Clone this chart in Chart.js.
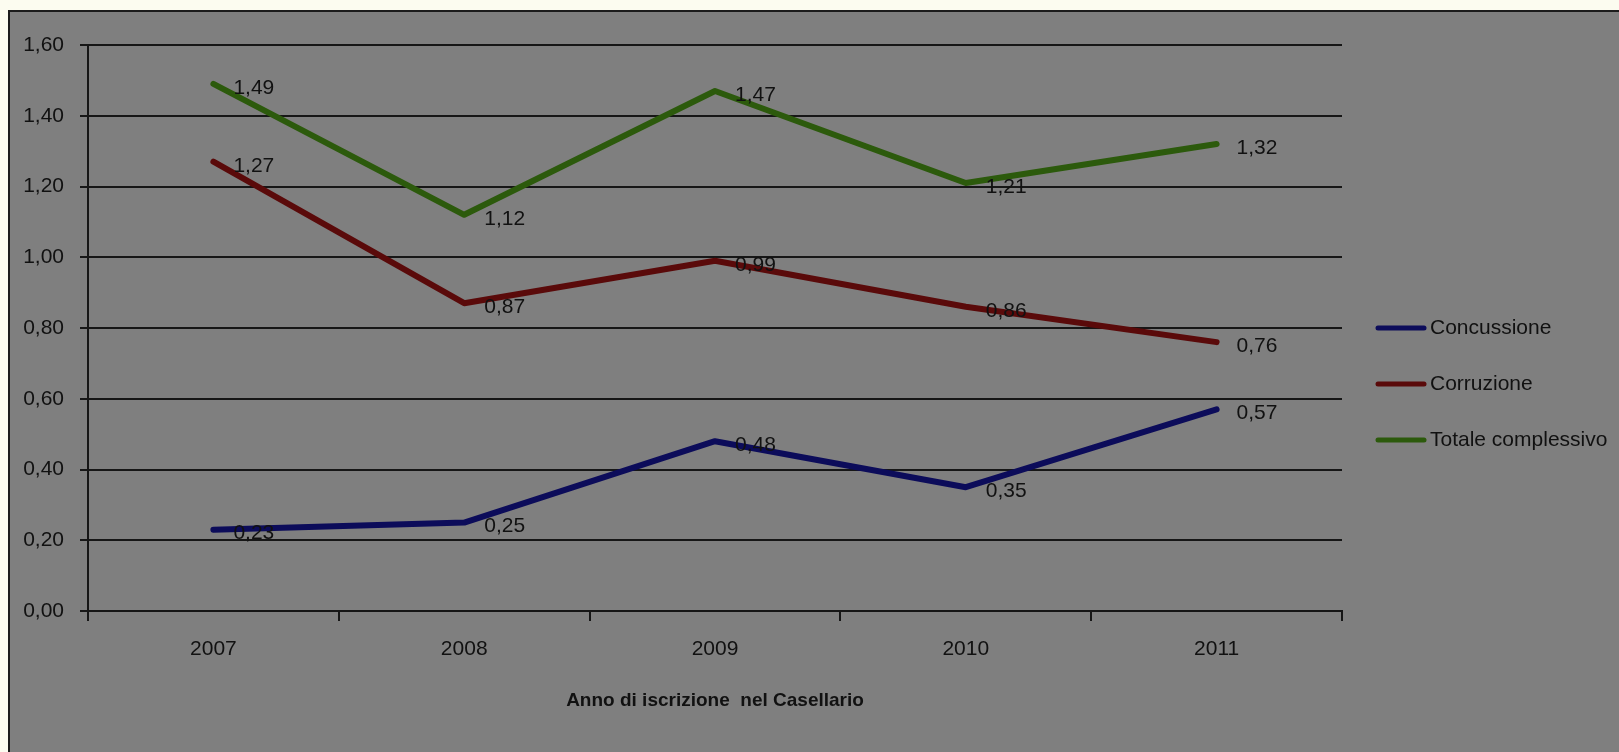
<!DOCTYPE html>
<html>
<head>
<meta charset="utf-8">
<script src="https://cdn.jsdelivr.net/npm/chart.js@4"></script>
<style>
    body { margin: 0; background: #fcfcf0; overflow: hidden; }
    #box { position: absolute; left: 8px; top: 10px; width: 1640px; height: 780px; background: #7f7f7f; border: 2px solid #1c1c1c; }
    #chart { position: absolute; left: 0; top: 0; }
</style>
</head>
<body>
<div id="box"></div>
<canvas id="chart" width="1619" height="752"></canvas>
<script>
// Dati del grafico
const anni = ['2007', '2008', '2009', '2010', '2011'];
const concussione = [0.23, 0.25, 0.48, 0.35, 0.57];
const corruzione = [1.27, 0.87, 0.99, 0.86, 0.76];
const totale = [1.49, 1.12, 1.47, 1.21, 1.32];
const nomiSerie = ['Concussione', 'Corruzione', 'Totale complessivo'];
const colori = ['#0c0c5a', '#5a0a0a', '#2c5a0c'];

const fontFam = "'Liberation Sans', Arial, sans-serif";
const formatta = v => v.toFixed(2).replace('.', ',');

// Etichette dei valori a destra dei punti
const etichette = {
    id: 'etichette',
    afterDatasetsDraw(chart) {
        const ctx = chart.ctx;
        ctx.save();
        ctx.font = '21px ' + fontFam;
        ctx.fillStyle = '#111111';
        ctx.textAlign = 'left';
        ctx.textBaseline = 'middle';
        chart.data.datasets.forEach((ds, i) => {
            chart.getDatasetMeta(i).data.forEach((pt, j) => {
                ctx.fillText(formatta(ds.data[j]), pt.x + 20, pt.y + 4);
            });
        });
        ctx.restore();
    }
};

// Legenda a destra
const legenda = {
    id: 'legenda',
    afterDraw(chart) {
        const ctx = chart.ctx;
        const x0 = chart.chartArea.right + 36;
        ctx.save();
        ctx.font = '21px ' + fontFam;
        ctx.textBaseline = 'middle';
        chart.data.datasets.forEach((ds, i) => {
            const y = 328 + i * 56;
            ctx.strokeStyle = ds.borderColor;
            ctx.lineWidth = 5;
            ctx.lineCap = 'round';
            ctx.beginPath();
            ctx.moveTo(x0, y);
            ctx.lineTo(x0 + 46, y);
            ctx.stroke();
            ctx.fillStyle = '#111111';
            ctx.fillText(ds.label, x0 + 52, y);
        });
        ctx.restore();
    }
};

const serie = [concussione, corruzione, totale];

new Chart(document.getElementById('chart'), {
    type: 'line',
    data: {
        labels: anni,
        datasets: serie.map((d, i) => ({
            label: nomiSerie[i],
            data: d,
            borderColor: colori[i],
            backgroundColor: colori[i],
            borderWidth: 6,
            borderCapStyle: 'round',
            borderJoinStyle: 'round',
            pointRadius: 0,
            tension: 0
        }))
    },
    options: {
        responsive: false,
        devicePixelRatio: 1,
        animation: false,
        layout: { padding: { left: 0, top: 45, right: 277, bottom: 0 } },
        plugins: {
            legend: { display: false },
            tooltip: { enabled: false }
        },
        scales: {
            x: {
                offset: true,
                afterFit: s => { s.height = 141; },
                grid: { offset: true, drawOnChartArea: false, tickLength: 10, color: '#161616', lineWidth: 2 },
                border: { color: '#161616', width: 2 },
                ticks: { color: '#111111', font: { family: fontFam, size: 21 }, padding: 16 },
                title: {
                    display: true,
                    text: 'Anno di iscrizione  nel Casellario',
                    color: '#111111',
                    font: { family: fontFam, size: 19, weight: 'bold' },
                    padding: { top: 0, bottom: 40 }
                }
            },
            y: {
                min: 0,
                max: 1.6,
                afterFit: s => { s.width = 88; },
                grid: { color: '#161616', lineWidth: 2, tickLength: 8 },
                border: { color: '#161616', width: 2 },
                ticks: {
                    stepSize: 0.2,
                    color: '#111111',
                    font: { family: fontFam, size: 21 },
                    padding: 16,
                    callback: v => formatta(v)
                }
            }
        }
    },
    plugins: [etichette, legenda]
});
</script>
</body>
</html>
